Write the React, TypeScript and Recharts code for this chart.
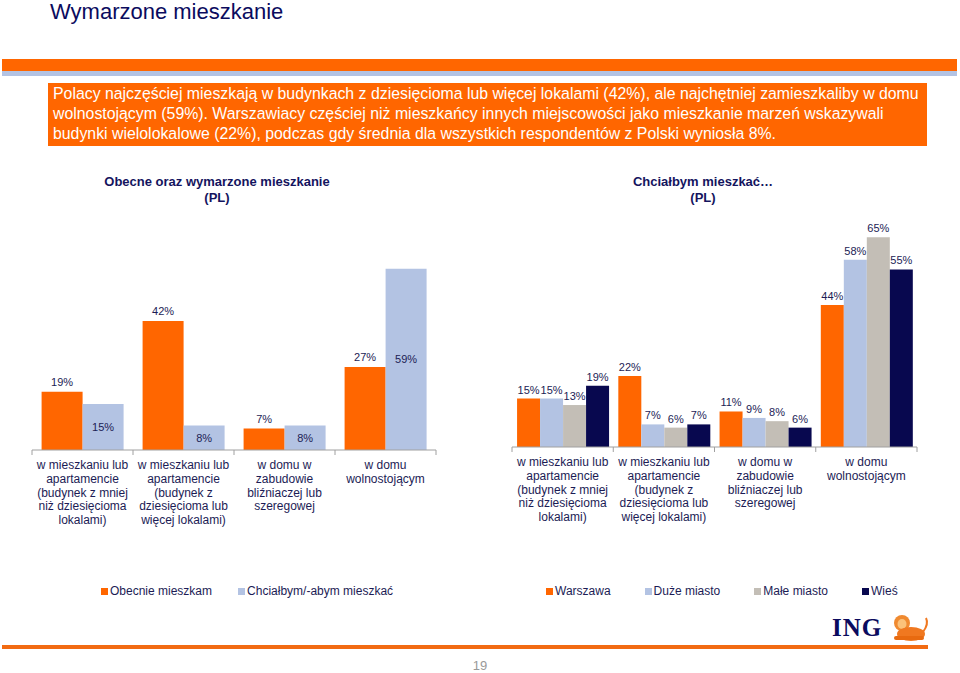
import React from "react";
import { BarChart, Bar, XAxis, YAxis, LabelList } from "recharts";

// category labels (line by line, as on the slide)
const categoryLines: string[][] = [
  ["w mieszkaniu lub", "apartamencie", "(budynek z mniej", "niż dziesięcioma", "lokalami)"],
  ["w mieszkaniu lub", "apartamencie", "(budynek z", "dziesięcioma lub", "więcej lokalami)"],
  ["w domu w", "zabudowie", "bliźniaczej lub", "szeregowej"],
  ["w domu", "wolnostojącym"],
];

// left chart: Obecne oraz wymarzone mieszkanie (PL)
const obecnie = [19, 42, 7, 27];
const chcialbym = [15, 8, 8, 59];

// right chart: Chciałbym mieszkać… (PL)
const warszawa = [15, 22, 11, 44];
const duzeMiasto = [15, 7, 9, 58];
const maleMiasto = [13, 6, 8, 65];
const wies = [19, 7, 6, 55];

const ORANGE = "#FF6600";
const LIGHT_BLUE = "#B3C3E3";
const GRAY = "#C3BEB6";
const NAVY = "#08084F";
const TEXT = "#1C1C55";
const FONT = "'Liberation Sans', Arial, sans-serif";

const leftSeries = [
  { key: "obecnie", name: "Obecnie mieszkam", color: ORANGE, labelPos: "top" },
  { key: "chcialbym", name: "Chciałbym/-abym mieszkać", color: LIGHT_BLUE, labelPos: "center" },
];

const rightSeries = [
  { key: "warszawa", name: "Warszawa", color: ORANGE },
  { key: "duze", name: "Duże miasto", color: LIGHT_BLUE },
  { key: "male", name: "Małe miasto", color: GRAY },
  { key: "wies", name: "Wieś", color: NAVY },
];

const leftData = categoryLines.map((_, i) => ({
  cat: String(i),
  obecnie: obecnie[i],
  chcialbym: chcialbym[i],
}));

const rightData = categoryLines.map((_, i) => ({
  cat: String(i),
  warszawa: warszawa[i],
  duze: duzeMiasto[i],
  male: maleMiasto[i],
  wies: wies[i],
}));

const pct = (v: any) => `${v}%`;

function CategoryTick(props: any) {
  const { x, y, payload, index, visibleTicksCount } = props;
  const half = payload && payload.offset ? payload.offset : 50.5;
  const lines = categoryLines[Number(payload.value)] || [];
  const last = index === visibleTicksCount - 1;
  return (
    <g>
      <line x1={x - half} x2={x - half} y1={y} y2={y + 5} stroke="#A0A0A0" />
      {last && <line x1={x + half} x2={x + half} y1={y} y2={y + 5} stroke="#A0A0A0" />}
      <text x={x} y={y} textAnchor="middle" fontSize={12} fill={TEXT} fontFamily={FONT}>
        {lines.map((l, i) => (
          <tspan key={i} x={x} dy={i === 0 ? 19 : 13.8}>
            {l}
          </tspan>
        ))}
      </text>
    </g>
  );
}

const labelStyle = { fontSize: 11, fill: TEXT, fontFamily: FONT };

function LegendRow({ items, gap }: { items: { name: string; color: string }[]; gap: number }) {
  return (
    <div style={{ display: "flex", gap, fontFamily: FONT, fontSize: 12, color: TEXT }}>
      {items.map((it) => (
        <div key={it.name} style={{ display: "flex", alignItems: "center" }}>
          <span style={{ width: 7, height: 7, background: it.color, marginRight: 2, display: "inline-block" }} />
          {it.name}
        </div>
      ))}
    </div>
  );
}

function Lion() {
  return (
    <svg width={40} height={28} style={{ position: "absolute", left: 891, top: 614 }}>
      <ellipse cx={11} cy={9} rx={8} ry={8} fill="#F08A30" />
      <ellipse cx={11} cy={10} rx={4.5} ry={5} fill="#FBC27A" />
      <ellipse cx={20} cy={20} rx={14} ry={7} fill="#F07820" />
      <rect x={3} y={22} width={30} height={4} rx={2} fill="#E86A10" />
      <path d="M32 18 Q38 10 35 4" stroke="#F07820" strokeWidth={2} fill="none" />
    </svg>
  );
}

export default function App() {
  return (
    <div
      style={{
        position: "absolute",
        left: 0,
        top: 0,
        width: 960,
        height: 673,
        background: "#fff",
        overflow: "hidden",
        fontFamily: FONT,
      }}
    >
      <div style={{ position: "absolute", left: 50, top: -1, fontSize: 22, color: "#0B0B5E" }}>
        Wymarzone mieszkanie
      </div>
      <div style={{ position: "absolute", left: 2, top: 59, width: 955, height: 12, background: ORANGE }} />
      <div style={{ position: "absolute", left: 2, top: 71, width: 955, height: 5, background: "#B3C3E3" }} />

      <div
        style={{
          position: "absolute",
          left: 48,
          top: 83,
          width: 879,
          height: 63,
          background: ORANGE,
          color: "#fff",
          fontSize: 15.85,
          lineHeight: "20px",
          padding: "1px 0 0 5px",
          boxSizing: "border-box",
          whiteSpace: "nowrap",
        }}
      >
        <div>Polacy najczęściej mieszkają w budynkach z dziesięcioma lub więcej lokalami (42%), ale najchętniej zamieszkaliby w domu</div>
        <div>wolnostojącym (59%). Warszawiacy częściej niż mieszkańcy innych miejscowości jako mieszkanie marzeń wskazywali</div>
        <div>budynki wielolokalowe (22%), podczas gdy średnia dla wszystkich respondentów z Polski wyniosła 8%.</div>
      </div>

      <div
        style={{
          position: "absolute",
          left: 67,
          top: 174,
          width: 300,
          textAlign: "center",
          fontWeight: "bold",
          fontSize: 13,
          lineHeight: "16px",
          color: "#14145E",
        }}
      >
        Obecne oraz wymarzone mieszkanie
        <br />
        (PL)
      </div>
      <div
        style={{
          position: "absolute",
          left: 553,
          top: 174,
          width: 300,
          textAlign: "center",
          fontWeight: "bold",
          fontSize: 13,
          lineHeight: "16px",
          color: "#14145E",
        }}
      >
        Chciałbym mieszkać…
        <br />
        (PL)
      </div>

      <div style={{ position: "absolute", left: 22, top: 225 }}>
        <BarChart
          width={424}
          height={315}
          data={leftData}
          margin={{ top: 10, right: 10, bottom: 0, left: 10 }}
          barCategoryGap="9.5%"
          barGap={0}
        >
          <XAxis
            dataKey="cat"
            stroke="#A0A0A0"
            tickLine={false}
            tickSize={0}
            tickMargin={0}
            height={90}
            interval={0}
            tick={<CategoryTick />}
          />
          <YAxis hide domain={[0, 70]} />
          {leftSeries.map((s) => (
            <Bar key={s.key} dataKey={s.key} name={s.name} fill={s.color} isAnimationActive={false}>
              <LabelList
                dataKey={s.key}
                position={s.labelPos as any}
                offset={6}
                formatter={pct}
                style={labelStyle}
              />
            </Bar>
          ))}
        </BarChart>
      </div>

      <div style={{ position: "absolute", left: 502, top: 211 }}>
        <BarChart
          width={425}
          height={326}
          data={rightData}
          margin={{ top: 10, right: 10, bottom: 0, left: 10 }}
          barCategoryGap="5%"
          barGap={0}
        >
          <XAxis
            dataKey="cat"
            stroke="#A0A0A0"
            tickLine={false}
            tickSize={0}
            tickMargin={0}
            height={90}
            interval={0}
            tick={<CategoryTick />}
          />
          <YAxis hide domain={[0, 70]} />
          {rightSeries.map((s) => (
            <Bar key={s.key} dataKey={s.key} name={s.name} fill={s.color} isAnimationActive={false}>
              <LabelList dataKey={s.key} position="top" offset={5} formatter={pct} style={labelStyle} />
            </Bar>
          ))}
        </BarChart>
      </div>

      <div style={{ position: "absolute", left: 101, top: 584 }}>
        <LegendRow items={leftSeries} gap={26} />
      </div>
      <div style={{ position: "absolute", left: 546, top: 584 }}>
        <LegendRow items={rightSeries} gap={34} />
      </div>

      <div
        style={{
          position: "absolute",
          left: 832,
          top: 614,
          fontFamily: "'Liberation Serif', 'Times New Roman', serif",
          fontWeight: "bold",
          fontSize: 25,
          letterSpacing: 1,
          color: "#0B0B5E",
          lineHeight: "28px",
        }}
      >
        ING
      </div>
      <Lion />
      <div style={{ position: "absolute", left: 2, top: 645, width: 926, height: 4, background: "#F26B12" }} />
      <div
        style={{
          position: "absolute",
          left: 460,
          top: 658,
          width: 40,
          textAlign: "center",
          fontSize: 13,
          color: "#999",
        }}
      >
        19
      </div>
    </div>
  );
}
